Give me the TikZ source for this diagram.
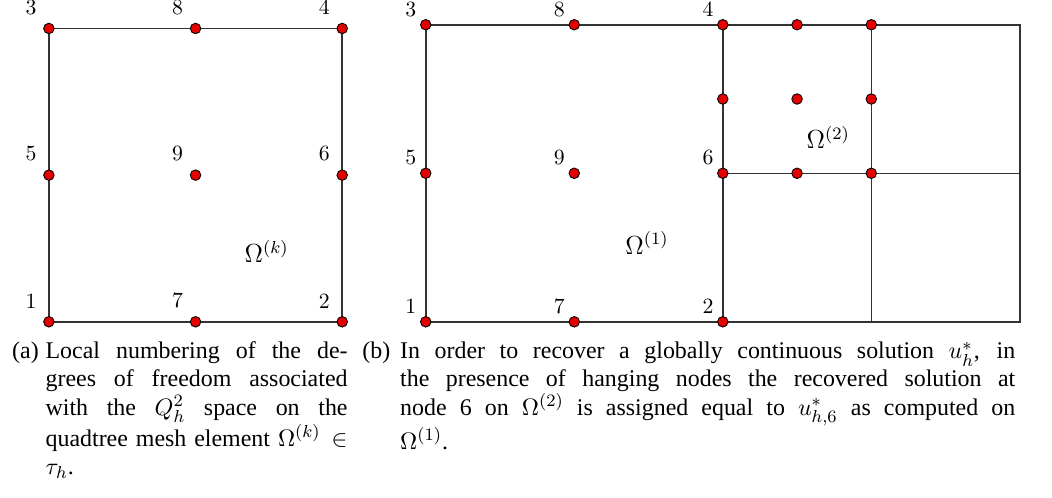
\documentclass[tikz,border=0pt]{standalone}
\usepackage{amsmath,amssymb}
\usepackage{fontspec}
\usepackage{tikz}
\usetikzlibrary{positioning}
\newfontfamily\capfont{Liberation Serif}
\tikzset{
  dof/.style={circle, draw=black, line width=0.4pt, fill=red!90!black, inner sep=0pt, minimum size=0.17cm},
  mesh/.style={draw=black!80, line width=0.7pt},
  num/.style={inner sep=0pt},
  captag/.style={anchor=base west, inner sep=0pt, font=\capfont\fontsize{11}{12.9}\selectfont},
  capbody/.style={captag, align=justify}
}

\begin{document}
\begin{tikzpicture}
    \useasboundingbox (-0.79,-2.84) rectangle (16.21,5.20);
    % (a) one element with its nine dofs
    \begin{scope}[x=2.37cm, y=2.37cm]
        \foreach \n/\x/\y in {1/0/0, 2/2/0, 3/0/2, 4/2/2, 5/0/1, 6/2/1, 7/1/0, 8/1/2, 9/1/1}
            { \coordinate (a\n) at (\x,\y); }
        \draw[mesh] (a1) -- (a2) -- (a4) -- (a3) -- cycle;
        \foreach \n in {1,...,9} {
            \node[dof] (da\n) at (a\n) {};
            \node[num, above left=0.15cm and 0.13cm of da\n] (la\n) {\n};
        }
        \node (omk) at (1.485,0.48) {\large $\Omega^{(k)}$};
    \end{scope}
    % (b) coarse element next to a refined one
    \begin{scope}[xshift=6.09cm, x=2.4cm, y=2.4cm]
        \foreach \n/\x/\y in {1/0/0, 2/2/0, 3/0/2, 4/2/2, 5/0/1, 6/2/1, 7/1/0, 8/1/2, 9/1/1}
            { \coordinate (b\n) at (\x,\y); }
        \coordinate (bb) at (3,0);
        \coordinate (bt) at (3,2);
        \coordinate (rb) at (4,0);
        \coordinate (rm) at (4,1);
        \coordinate (rt) at (4,2);
        \draw[mesh] (b1) -- (rb) -- (rt) -- (b3) -- cycle;
        \draw[mesh] (b2) -- (b4);
        \draw[mesh] (bb) -- (bt);
        \draw[mesh] (b6) -- (rm);
        \foreach \n in {1,...,9} {
            \node[dof] (db\n) at (b\n) {};
            \node[num, above left=0.06cm and 0.08cm of db\n] (lb\n) {\n};
        }
        % hanging side: dofs of Omega^(2)
        \foreach \i/\x/\y in {1/2.5/2, 2/3/2, 3/2/1.5, 4/2.5/1.5, 5/3/1.5, 6/2.5/1, 7/3/1}
            { \node[dof] (dc\i) at (\x,\y) {}; }
        \node (om1) at (1.49,0.53) {\large $\Omega^{(1)}$};
        \node (om2) at (2.71,1.24) {\large $\Omega^{(2)}$};
    \end{scope}
    % captions
    \node[captag] (taga) at (-0.60,-0.60) {(a)};
    \node[capbody, text width=4.88cm] (capa) at (-0.06,-0.60)
        {Local numbering of the de-\linebreak grees of freedom associated\linebreak
         with the $Q_h^2$ space on the\linebreak quadtree mesh element $\Omega^{(k)}\in$\linebreak
         $\tau_h$.};
    \node[captag] (tagb) at (5.06,-0.60) {(b)};
    \node[capbody, text width=9.94cm] (capb) at (5.67,-0.60)
        {In order to recover a globally continuous solution $u_h^*$, in\linebreak
         the presence of hanging nodes the recovered solution at\linebreak
         node 6 on $\Omega^{(2)}$ is assigned equal to $u^*_{h,6}$ as computed on\linebreak
         $\Omega^{(1)}$.};
\end{tikzpicture}
\end{document}
